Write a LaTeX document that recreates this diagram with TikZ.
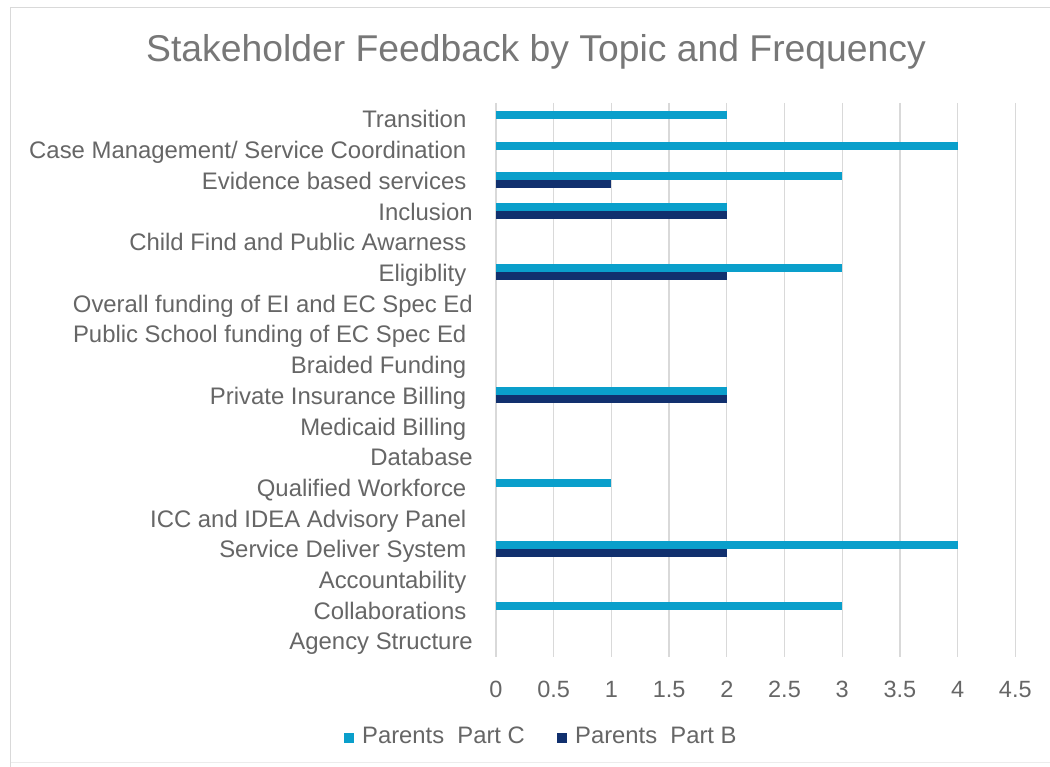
\documentclass[tikz,border=0pt]{standalone}
\usepackage{fontspec}
\setmainfont{Liberation Sans}
\definecolor{partC}{HTML}{0A9FCB}
\definecolor{partB}{HTML}{11306E}
\definecolor{txt}{HTML}{666666}
\definecolor{ttl}{HTML}{777777}
\definecolor{grid}{HTML}{D9D9D9}
\definecolor{frame}{HTML}{D9D9D9}
\begin{document}
\begin{tikzpicture}[x=1pt,y=-1pt,
  lbl/.style={anchor=base east,inner sep=0pt,text=txt,font=\fontsize{23.9}{28}\selectfont},
  tick/.style={anchor=base,inner sep=0pt,text=txt,font=\fontsize{23.5}{28}\selectfont},
  leg/.style={anchor=base west,inner sep=0pt,text=txt,font=\fontsize{23.8}{28}\selectfont},
  barC/.style={fill=partC,draw=none},
  barB/.style={fill=partB,draw=none},
  gridline/.style={draw=grid,line width=1.3pt},
  frameline/.style={draw=frame,line width=1.2pt}]
\useasboundingbox (0,0) rectangle (1050,767);
\fill[white] (0,0) rectangle (1050,767);
% frame
\draw[frameline] (10.5,767) -- (10.5,7.5) -- (1050,7.5);
\draw[draw=frame!50,line width=1pt] (10.5,762.5) -- (1050,762.5);
% title
\node[anchor=base,inner sep=0pt,text=ttl,font=\fontsize{37.3}{42}\selectfont] (title) at (536,62) {Stakeholder Feedback by Topic and Frequency};
% grid and ticks
\foreach \k/\t in {0/0,1/0.5,2/1,3/1.5,4/2,5/2.5,6/3,7/3.5,8/4,9/4.5}{
  \draw[gridline] (496+57.7*\k,103) -- (496+57.7*\k,657);
  \node[tick] (tick\k) at (496+57.7*\k,697) {\t};
}
% category labels
\foreach \i/\name/\dx in {0/Transition/0,1/{Case Management/ Service Coordination}/0,2/Evidence based services/0,3/Inclusion/6.5,4/Child Find and Public Awarness/0,5/Eligiblity/0,6/Overall funding of EI and EC Spec Ed/6.5,7/Public School funding of EC Spec Ed/0,8/Braided Funding/0,9/Private Insurance Billing/0,10/Medicaid Billing/0,11/Database/6.5,12/Qualified Workforce/0,13/ICC and IDEA Advisory Panel/0,14/Service Deliver System/0,15/Accountability/0,16/Collaborations/0,17/Agency Structure/6.5}{
  \node[lbl] (cat\i) at (466.5+\dx,128+30.7*\i) {\name};
}
% Part C bars
\foreach \i/\v in {0/2,1/4,2/3,3/2,5/3,9/2,12/1,14/4,16/3}{
  \fill[barC] (496,111+30.7*\i) rectangle (496+115.4*\v,119+30.7*\i);
}
% Part B bars
\foreach \i/\v in {2/1,3/2,5/2,9/2,14/2}{
  \fill[barB] (496,119+30.7*\i) rectangle (496+115.4*\v,127+30.7*\i);
}
% legend
\fill[partC] (344,732.5) rectangle (354,742.5);
\node[leg] (legC) at (362,743) {Parents\ \ Part C};
\fill[partB] (557,732.5) rectangle (567,742.5);
\node[leg] (legB) at (575,743) {Parents\ \ Part B};
\end{tikzpicture}
\end{document}
